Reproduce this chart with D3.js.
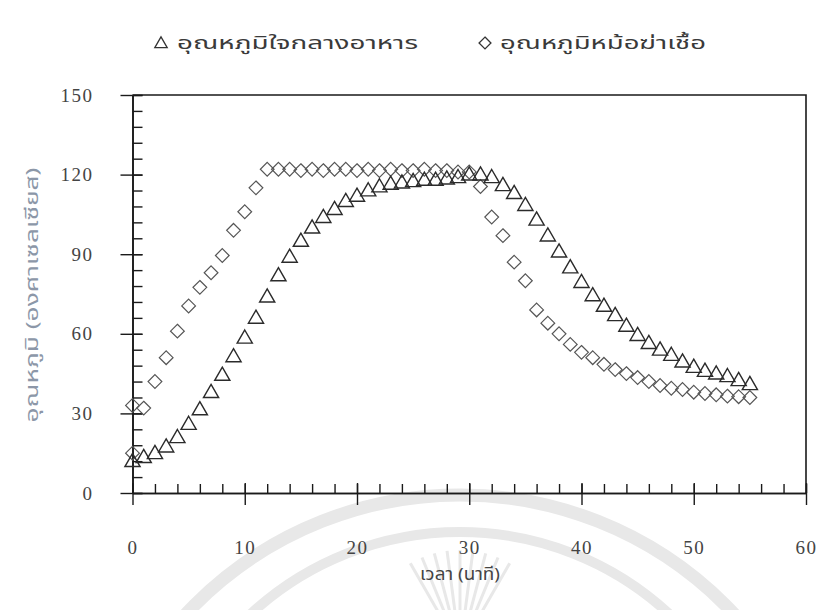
<!DOCTYPE html>
<html><head><meta charset="utf-8">
<script src="https://cdn.jsdelivr.net/npm/d3@7"></script>
<style>
html,body{margin:0;padding:0;background:#fff;}
svg{display:block;}
</style></head>
<body>
<svg id="chart" width="819" height="610"></svg>
<script>
// ---- data ----
const legendLabels = ["อุณหภูมิใจกลางอาหาร", "อุณหภูมิหม้อฆ่าเชื้อ"];
const xTitle = "เวลา (นาที)";
const yTitle = "อุณหภูมิ (องศาเซลเซียส)";
const xTicks = [0, 10, 20, 30, 40, 50, 60];
const yTicks = [0, 30, 60, 90, 120, 150];

const foodTime = [0,1,2,3,4,5,6,7,8,9,10,11,12,13,14,15,16,17,18,19,20,21,22,23,24,25,26,27,28,29,30,31,32,33,34,35,36,37,38,39,40,41,42,43,44,45,46,47,48,49,50,51,52,53,54,55];
const foodTemp = [12,13.5,15,17.5,21,26,31.5,38,44.5,51.5,58.5,66,74,82,89,95,100,104,107,110,112,114,115.5,116.5,117,117.5,118,118,118.5,119,120,120,119,116,113,108.5,103,97,91,85,79.5,74.5,70.5,67,63,59.5,56.5,54,52,49.5,47.5,46,45,44,42.5,41];

const retortTime = [0,0,1,2,3,4,5,6,7,8,9,10,11,12,13,14,15,16,17,18,19,20,21,22,23,24,25,26,27,28,29,30,31,32,33,34,35,36,37,38,39,40,41,42,43,44,45,46,47,48,49,50,51,52,53,54,55];
const retortTemp = [15,33,32,42,51,61,70.5,77.5,83,89.5,99,106,115,122,122,122,121.5,122,121.5,122,122,121.5,122,121.5,122,121.5,121.5,122,121.5,121.5,121,121,115.5,104,97,87,80,69,64,60,56,53,51,48.5,46.5,45,43.5,42,40.5,39.5,39,38,37.5,37,36.5,36.3,36];

// ---- layout ----
const svg = d3.select("#chart");
const x = d3.scaleLinear().domain([0, 60]).range([132.5, 806]);
const y = d3.scaleLinear().domain([0, 150]).range([493, 95]);

// faint watermark arcs
const wm = svg.append("g").attr("fill", "none").attr("stroke", "#e8e8e8");
wm.append("circle").attr("cx", 460).attr("cy", 870).attr("r", 375).attr("stroke-width", 13);
wm.append("circle").attr("cx", 460).attr("cy", 840).attr("r", 308).attr("stroke-width", 10);
d3.range(-4, 5).forEach(k => {
  const a = k * 0.13;
  wm.append("line")
    .attr("x1", 460 + Math.sin(a) * 35).attr("y1", 650 - Math.cos(a) * 35)
    .attr("x2", 460 + Math.sin(a) * 100).attr("y2", 650 - Math.cos(a) * 100)
    .attr("stroke-width", 3);
});

// frame (top + right)
svg.append("path")
  .attr("d", `M${x(0)},${y(150)}H${x(60)}V${y(0)}`)
  .attr("fill", "none").attr("stroke", "#1a1a1a").attr("stroke-width", 1.6);

const tickFont = "'Liberation Serif','Times New Roman',serif";

// x axis: minor ticks inside (up)
const xMinor = svg.append("g").attr("transform", `translate(0,${y(0)})`)
  .call(d3.axisTop(x).tickValues(d3.range(0, 61, 2)).tickSize(9).tickSizeOuter(0).tickFormat(""));
// x axis: major ticks crossing + labels
const xMajor = svg.append("g").attr("transform", `translate(0,${y(0)})`)
  .call(d3.axisBottom(x).tickValues(xTicks).tickSize(12).tickSizeOuter(0).tickPadding(36).tickFormat(d3.format("d")));
xMajor.selectAll(".tick line").clone().attr("y2", -10);

// y axis: minor ticks inside (right)
const yMinor = svg.append("g").attr("transform", `translate(${x(0)},0)`)
  .call(d3.axisRight(y).tickValues(d3.range(0, 151, 6)).tickSize(10).tickSizeOuter(0).tickFormat(""));
// y axis: major ticks crossing + labels
const yMajor = svg.append("g").attr("transform", `translate(${x(0)},0)`)
  .call(d3.axisLeft(y).tickValues(yTicks).tickSize(12).tickSizeOuter(0).tickPadding(27).tickFormat(d3.format("d")));
yMajor.selectAll(".tick line").clone().attr("x2", 10);

[xMinor, xMajor, yMinor, yMajor].forEach(g => {
  g.selectAll("path.domain").attr("stroke", "#1a1a1a").attr("stroke-width", 1.6);
  g.selectAll(".tick line").attr("stroke", "#1a1a1a").attr("stroke-width", 1.4);
  g.selectAll("text").attr("font-family", tickFont).attr("font-size", 19)
    .attr("fill", "#444").attr("letter-spacing", 1.5);
});

// markers
const triSym = d3.symbol().type(d3.symbolTriangle2).size(165);
const diaSym = d3.symbol().type(d3.symbolDiamond2).size(120);

svg.append("g").selectAll("path")
  .data(retortTime.map((t, i) => [t, retortTemp[i]]))
  .join("path")
  .attr("d", diaSym)
  .attr("transform", d => `translate(${x(d[0])},${y(d[1])})`)
  .attr("fill", "none").attr("stroke", "#555").attr("stroke-width", 1.2);

svg.append("g").selectAll("path")
  .data(foodTime.map((t, i) => [t, foodTemp[i]]))
  .join("path")
  .attr("d", triSym)
  .attr("transform", d => `translate(${x(d[0])},${y(d[1]) + 1})`)
  .attr("fill", "none").attr("stroke", "#2b2b2b").attr("stroke-width", 1.4);

// legend
const thaiFont = "'Noto Sans Thai','Noto Sans','DejaVu Sans',sans-serif";
const leg = svg.append("g");
leg.append("path").attr("d", d3.symbol().type(d3.symbolTriangle2).size(110))
  .attr("transform", "translate(161,44)").attr("fill", "none").attr("stroke", "#333").attr("stroke-width", 1.3);
leg.append("text").attr("x", 177).attr("y", 49).text(legendLabels[0])
  .attr("font-family", thaiFont).attr("font-size", 17).attr("fill", "#3a3a3a")
  .attr("textLength", 241).attr("lengthAdjust", "spacingAndGlyphs");
leg.append("path").attr("d", d3.symbol().type(d3.symbolDiamond2).size(90))
  .attr("transform", "translate(485,43)").attr("fill", "none").attr("stroke", "#333").attr("stroke-width", 1.3);
leg.append("text").attr("x", 500).attr("y", 49).text(legendLabels[1])
  .attr("font-family", thaiFont).attr("font-size", 17).attr("fill", "#3a3a3a")
  .attr("textLength", 206).attr("lengthAdjust", "spacingAndGlyphs");

// axis titles
svg.append("text").attr("x", 460).attr("y", 580).attr("text-anchor", "middle")
  .attr("font-family", thaiFont).attr("font-size", 17).attr("fill", "#444")
  .attr("textLength", 80).attr("lengthAdjust", "spacingAndGlyphs")
  .text(xTitle);
svg.append("text").attr("transform", "translate(38,295) rotate(-90)").attr("text-anchor", "middle")
  .attr("font-family", thaiFont).attr("font-size", 17).attr("fill", "#8c97a8")
  .attr("textLength", 255).attr("lengthAdjust", "spacingAndGlyphs")
  .text(yTitle);
</script>
</body></html>
